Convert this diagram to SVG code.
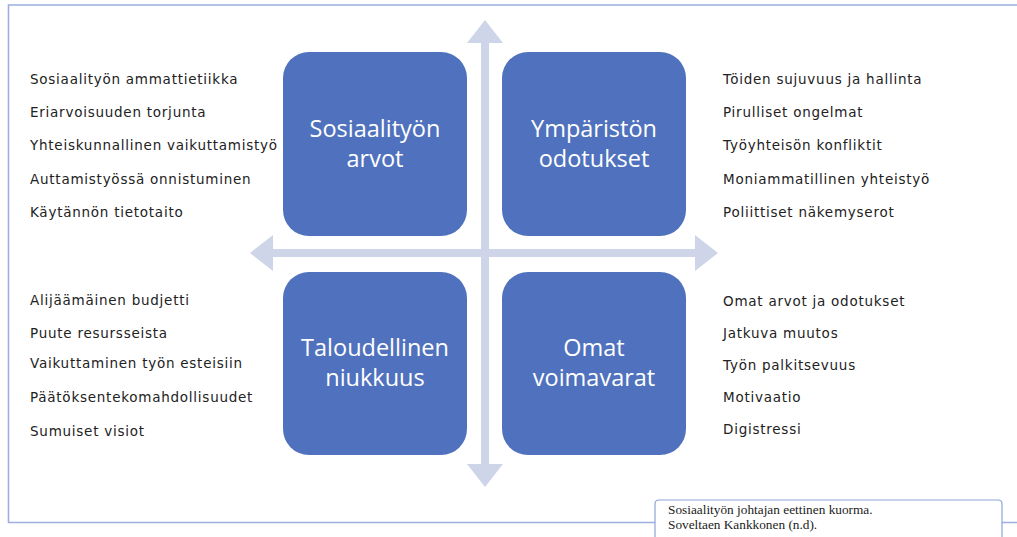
<svg xmlns="http://www.w3.org/2000/svg" width="1017" height="537" viewBox="0 0 1017 537">
<style>
.frame{fill:none;stroke:#9DAEDF;stroke-width:1.6}
.box{fill:#5072BE}
.arrow{fill:#CFD5E8}
.bt{font-family:"Open Sans","Noto Sans",sans-serif;font-size:23.5px;fill:#FFFFFF;text-anchor:middle}
.lt{font-family:"DejaVu Sans",sans-serif;font-size:13.5px;letter-spacing:0.75px;fill:#222222}
.cap{font-family:"Liberation Serif",serif;font-size:13.3px;fill:#222222}
</style>
<rect width="1017" height="537" fill="#FFFFFF"/>
<g id="frame">
<path class="frame" d="M1017 5 H8.5 V522.5 H655 M1002 522.5 H1017"/>
</g>
<g id="connectors">
<path class="arrow" d="M485 20 L503 43 L489 43 L489 249 L695 249 L695 235 L718 253 L695 271 L695 257 L489 257 L489 464 L503 464 L485 487 L467 464 L481 464 L481 257 L273 257 L273 271 L250 253 L273 235 L273 249 L481 249 L481 43 L467 43 Z"/>
</g>
<g id="node-sosiaalityon-arvot">
<rect class="box" x="283" y="52" width="184" height="184" rx="26"/>
<text class="bt" x="375" y="137">Sosiaalityön</text>
<text class="bt" x="375" y="167">arvot</text>
</g>
<g id="node-ympariston-odotukset">
<rect class="box" x="502" y="52" width="184" height="184" rx="26"/>
<text class="bt" x="594" y="137">Ympäristön</text>
<text class="bt" x="594" y="167">odotukset</text>
</g>
<g id="node-taloudellinen-niukkuus">
<rect class="box" x="283" y="272" width="184" height="183" rx="26"/>
<text class="bt" x="375" y="356">Taloudellinen</text>
<text class="bt" x="375" y="386">niukkuus</text>
</g>
<g id="node-omat-voimavarat">
<rect class="box" x="502" y="272" width="184" height="183" rx="26"/>
<text class="bt" x="594" y="356">Omat</text>
<text class="bt" x="594" y="386">voimavarat</text>
</g>
<g id="list-top-left">
<text class="lt" x="30" y="84">Sosiaalityön ammattietiikka</text>
<text class="lt" x="30" y="117">Eriarvoisuuden torjunta</text>
<text class="lt" x="30" y="150">Yhteiskunnallinen vaikuttamistyö</text>
<text class="lt" x="30" y="184">Auttamistyössä onnistuminen</text>
<text class="lt" x="30" y="217">Käytännön tietotaito</text>
</g>
<g id="list-top-right">
<text class="lt" x="723" y="84">Töiden sujuvuus ja hallinta</text>
<text class="lt" x="723" y="117">Pirulliset ongelmat</text>
<text class="lt" x="723" y="150">Työyhteisön konfliktit</text>
<text class="lt" x="723" y="184">Moniammatillinen yhteistyö</text>
<text class="lt" x="723" y="217">Poliittiset näkemyserot</text>
</g>
<g id="list-bottom-left">
<text class="lt" x="30" y="305">Alijäämäinen budjetti</text>
<text class="lt" x="30" y="338">Puute resursseista</text>
<text class="lt" x="30" y="368">Vaikuttaminen työn esteisiin</text>
<text class="lt" x="30" y="402">Päätöksentekomahdollisuudet</text>
<text class="lt" x="30" y="436">Sumuiset visiot</text>
</g>
<g id="list-bottom-right">
<text class="lt" x="723" y="306">Omat arvot ja odotukset</text>
<text class="lt" x="723" y="338">Jatkuva muutos</text>
<text class="lt" x="723" y="370">Työn palkitsevuus</text>
<text class="lt" x="723" y="402">Motivaatio</text>
<text class="lt" x="723" y="434">Digistressi</text>
</g>
<g id="caption">
<path d="M655 537 V504 Q655 500 659 500 H998 Q1002 500 1002 504 V537" fill="#FFFFFF" stroke="#8FA3DA" stroke-width="1.2"/>
<text class="cap" x="668" y="514">Sosiaalityön johtajan eettinen kuorma.</text>
<text class="cap" x="668" y="529">Soveltaen Kankkonen (n.d).</text>
</g>
</svg>
